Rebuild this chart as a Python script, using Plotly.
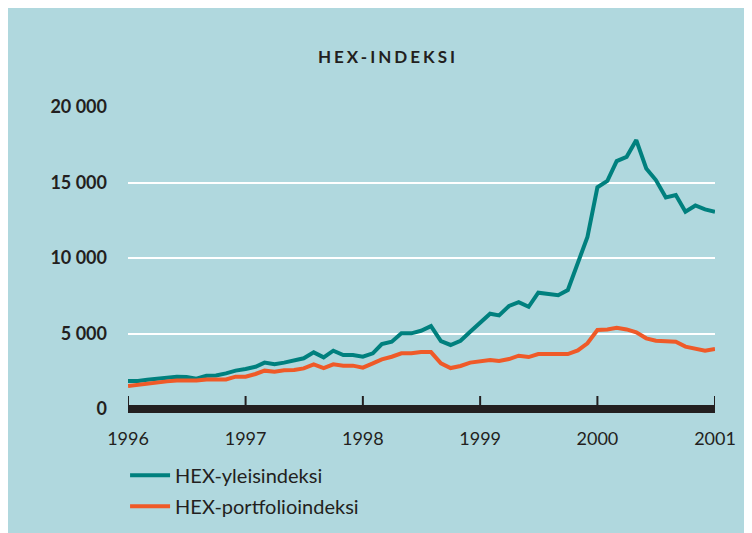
import pandas as pd
import plotly.graph_objects as go

months = pd.date_range("1996-01-01", periods=61, freq="MS")

yleis = [1850, 1850, 1940, 1990, 2050, 2140, 2120, 2010, 2200, 2220,
         2360, 2540, 2650, 2800, 3070, 2960, 3070, 3200, 3360, 3750,
         3420, 3860, 3575, 3575, 3460, 3690, 4300, 4460, 5010, 5010,
         5180, 5490, 4500, 4240, 4520, 5120, 5740, 6310, 6200, 6820,
         7080, 6770, 7700, 7590, 7530, 7880, 9640, 11400, 14680, 15110,
         16420, 16700, 17810, 15930, 15160, 14010, 14170, 13060, 13480, 13220,
         13060]

portfolio = [1520, 1610, 1700, 1740, 1830, 1880, 1880, 1880, 1960, 1960,
             1960, 2140, 2140, 2320, 2540, 2470, 2560, 2580, 2690, 2960,
             2710, 2960, 2870, 2870, 2740, 3020, 3290, 3460, 3690, 3690,
             3770, 3770, 3020, 2710, 2850, 3070, 3180, 3240, 3180, 3310,
             3530, 3440, 3640, 3640, 3640, 3640, 3880, 4350, 5230, 5270,
             5380, 5270, 5080, 4680, 4520, 4460, 4460, 4130, 4020, 3860,
             3970]

y_ticks = [0, 5000, 10000, 15000, 20000]
y_tick_text = ["0", "5 000", "10 000", "15 000", "20 000"]
x_ticks = ["1996-01-01", "1997-01-01", "1998-01-01", "1999-01-01", "2000-01-01", "2001-01-01"]
x_tick_text = ["1996", "1997", "1998", "1999", "2000", "2001"]

BG = "#b0d8de"
INK = "#231f20"
TEAL = "#00807e"
ORANGE = "#ef5a28"
FONT = "Lato"

fig = go.Figure()
fig.add_trace(go.Scatter(x=months, y=yleis, mode="lines", name="HEX-yleisindeksi",
                         legendgroup="a", line=dict(color=TEAL, width=4)))
fig.add_trace(go.Scatter(x=months, y=portfolio, mode="lines", name="HEX-portfolioindeksi",
                         legendgroup="b", line=dict(color=ORANGE, width=4)))

W, H = 752, 533
L, R, T, B = 120, 45, 99, 128

# thick baseline bar at zero
fig.add_shape(type="line", xref="x", yref="y",
              x0=x_ticks[0], x1=x_ticks[-1], y0=0, y1=0,
              line=dict(color=INK, width=8), layer="above")
# year tick marks rising from the bar
for tv in x_ticks:
    fig.add_shape(type="line", xref="x", yref="y", ysizemode="pixel", yanchor=0,
                  x0=tv, x1=tv, y0=0, y1=13,
                  line=dict(color=INK, width=2), layer="above")

fig.update_layout(
    width=W, height=H,
    margin=dict(l=L, r=R, t=T, b=B, autoexpand=False),
    paper_bgcolor=BG,
    plot_bgcolor=BG,
    font=dict(family=FONT, color=INK, size=18),
    title=dict(text="HEX-INDEKSI", x=380 / W, xanchor="center",
               y=1 - 49 / H, yanchor="middle", xref="container", yref="container",
               automargin=False,
               font=dict(family=FONT, size=17, color=INK, weight="bold")),
    showlegend=True,
    legend=dict(x=-0.005, xanchor="left", y=-0.14, yanchor="top",
                bgcolor="rgba(0,0,0,0)", font=dict(size=20, color=INK),
                traceorder="grouped", tracegroupgap=2, itemwidth=40),
    xaxis=dict(type="date", range=[x_ticks[0], x_ticks[-1]],
               tickvals=x_ticks, ticktext=x_tick_text, automargin=False,
               showgrid=False, zeroline=False, showline=False,
               ticks="", ticklabelstandoff=13,
               tickfont=dict(size=18, color=INK)),
    yaxis=dict(range=[-265, 20000], tickvals=y_ticks, ticktext=y_tick_text,
               automargin=False,
               showgrid=True, gridcolor="white", gridwidth=2,
               zeroline=False, showline=False, ticks="",
               ticklabelstandoff=20,
               tickfont=dict(size=18, color=INK, weight="bold")),
)

post = "document.querySelectorAll('.gtitle').forEach(function(e){e.style.letterSpacing='3px';});"
fig.write_html("out.html", post_script=post)
